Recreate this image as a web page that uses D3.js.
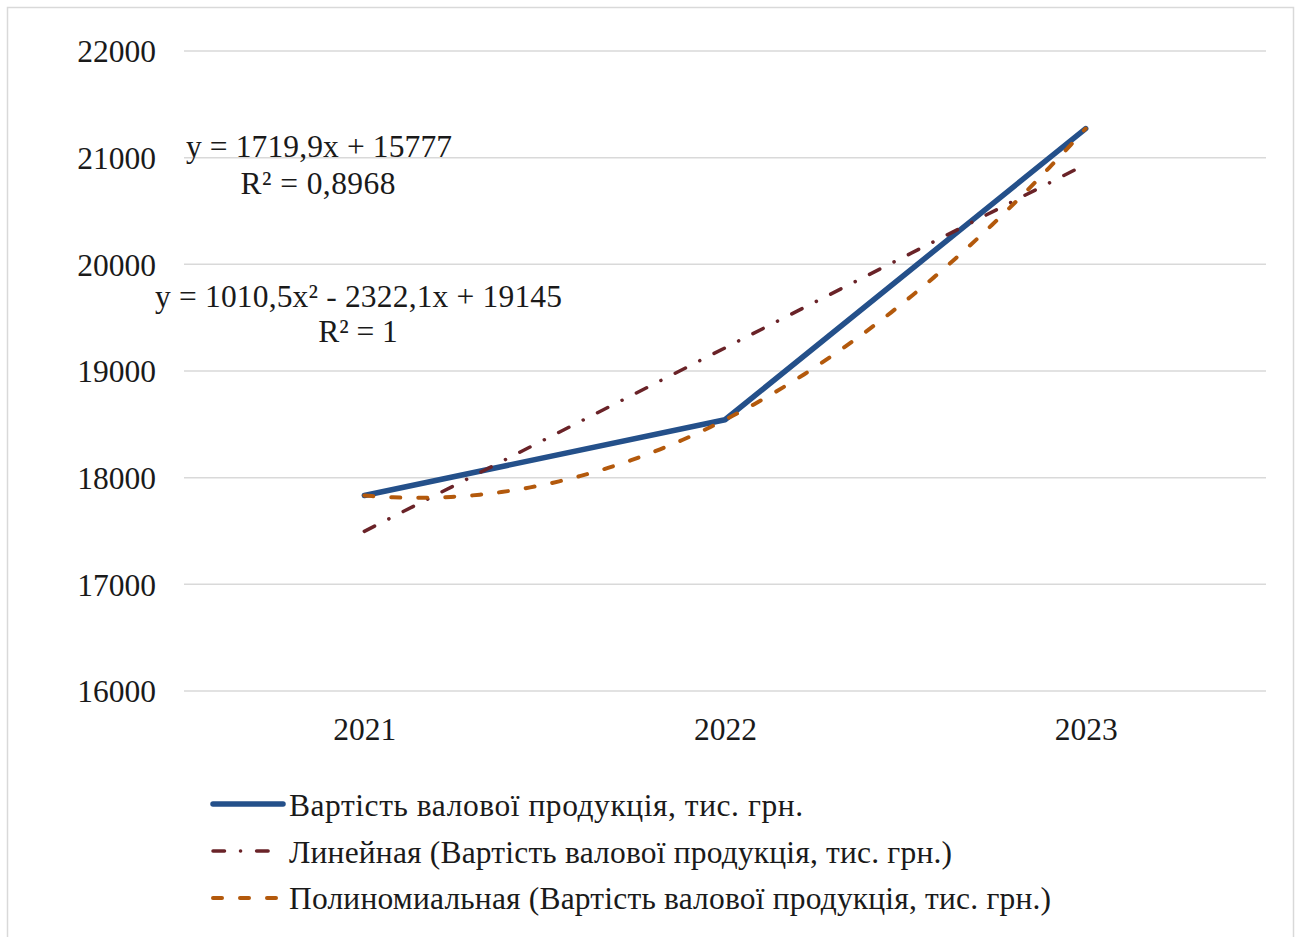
<!DOCTYPE html>
<html>
<head>
<meta charset="utf-8">
<script src="https://cdn.jsdelivr.net/npm/d3@7"></script>
<style>
  html, body { margin: 0; padding: 0; background: #fff; }
  svg { display: block; }
  text { font-family: "Liberation Serif", "Times New Roman", serif; fill: #1a1a1a; }
</style>
</head>
<body>
<svg id="chart" width="1299" height="937"></svg>
<script>
// ---- data ----
const categories = ["2021", "2022", "2023"];
const seriesValues = [17833, 18543, 21273];
const yTicks = [16000, 17000, 18000, 19000, 20000, 21000, 22000];
const linearCoef = [15777, 1719.9];          // y = b0 + b1*x
const polyCoef = [19145, -2322.1, 1010.5];    // y = c0 + c1*x + c2*x^2
const linearLabel = ["y = 1719,9x + 15777", "R² = 0,8968"];
const polyLabel = ["y = 1010,5x² - 2322,1x + 19145", "R² = 1"];
const legendLabels = [
  "Вартість валової продукція, тис. грн.",
  "Линейная (Вартість валової продукція, тис. грн.)",
  "Полиномиальная (Вартість валової продукція, тис. грн.)"
];

// ---- styles ----
const colMain = "#24508a";
const colLin = "#6a2328";
const colPoly = "#b3590c";
const dashLin = "11.5,16,0.1,16";
const dashPoly = "9,18";
const fs = 31.5;

const svg = d3.select("#chart");

// outer border
svg.append("rect")
  .attr("x", 7.5).attr("y", 7.5)
  .attr("width", 1286).attr("height", 945)
  .attr("fill", "#fff").attr("stroke", "#d9d9d9").attr("stroke-width", 1.5);

const plot = { left: 184, right: 1266, top: 51, bottom: 691 };

const x = d3.scalePoint().domain(categories).range([plot.left, plot.right]).padding(0.5);
const y = d3.scaleLinear().domain([16000, 22000]).range([plot.bottom, plot.top]);
const xi = d3.scaleLinear().domain([1, categories.length])
  .range([x(categories[0]), x(categories[categories.length - 1])]);

// gridlines
svg.append("g").selectAll("line").data(yTicks).join("line")
  .attr("x1", plot.left).attr("x2", plot.right)
  .attr("y1", d => y(d)).attr("y2", d => y(d))
  .attr("stroke", "#d9d9d9").attr("stroke-width", 1.5);

// y tick labels
const yAxis = d3.axisLeft(y).tickValues(yTicks).tickSize(0).tickPadding(0).tickFormat(d3.format("d"));
const gy = svg.append("g").attr("transform", "translate(156,0)").call(yAxis);
gy.attr("font-family", null).attr("font-size", null);
gy.select(".domain").remove();
gy.selectAll("text").attr("font-size", fs).attr("fill", "#1a1a1a").attr("dy", "0.34em");

// x tick labels
const xAxis = d3.axisBottom(x).tickSize(0).tickPadding(0);
const gx = svg.append("g").attr("transform", `translate(0,${plot.bottom})`).call(xAxis);
gx.attr("font-family", null).attr("font-size", null);
gx.select(".domain").remove();
gx.selectAll("text").attr("font-size", fs).attr("fill", "#1a1a1a")
  .attr("dy", 0).attr("y", 49);

// main series
const line = d3.line().x((d, i) => x(categories[i])).y(d => y(d));
svg.append("path").datum(seriesValues)
  .attr("d", line).attr("fill", "none").attr("stroke", colMain)
  .attr("stroke-width", 5.5).attr("stroke-linejoin", "round").attr("stroke-linecap", "round");

// linear trend line
const linY = t => linearCoef[0] + linearCoef[1] * t;
const linPts = [1, categories.length].map(t => [xi(t), y(linY(t))]);
svg.append("path").attr("d", d3.line()(linPts))
  .attr("fill", "none").attr("stroke", colLin).attr("stroke-width", 3.5)
  .attr("stroke-dasharray", dashLin).attr("stroke-linecap", "round");

// polynomial trend line
const polyY = t => polyCoef[0] + polyCoef[1] * t + polyCoef[2] * t * t;
const polyPts = d3.range(1, categories.length + 0.0001, 0.02).map(t => [xi(t), y(polyY(t))]);
svg.append("path").attr("d", d3.line()(polyPts))
  .attr("fill", "none").attr("stroke", colPoly).attr("stroke-width", 4)
  .attr("stroke-dasharray", dashPoly).attr("stroke-linecap", "round");

// equation labels
const eq = svg.append("g").attr("font-size", fs).attr("text-anchor", "middle");
eq.append("text").attr("x", 319).attr("y", 157).attr("textLength", 266).attr("lengthAdjust", "spacing").text(linearLabel[0]);
eq.append("text").attr("x", 318).attr("y", 194).attr("textLength", 155).attr("lengthAdjust", "spacing").text(linearLabel[1]);
eq.append("text").attr("x", 358.5).attr("y", 307).attr("textLength", 407).attr("lengthAdjust", "spacing").text(polyLabel[0]);
eq.append("text").attr("x", 358).attr("y", 342).text(polyLabel[1]);

// legend
const legendRows = [
  { color: colMain, width: 5.5, dash: null, lineY: 804, textY: 816, len: 514 },
  { color: colLin, width: 3.5, dash: dashLin, lineY: 851, textY: 863, len: 663 },
  { color: colPoly, width: 4, dash: dashPoly, lineY: 898, textY: 909, len: 762 }
];
const lg = svg.append("g");
legendRows.forEach((r, i) => {
  lg.append("line").attr("x1", 213).attr("x2", 283).attr("y1", r.lineY).attr("y2", r.lineY)
    .attr("stroke", r.color).attr("stroke-width", r.width).attr("stroke-linecap", "round")
    .attr("stroke-dasharray", r.dash);
  lg.append("text").attr("x", 289).attr("y", r.textY).attr("font-size", fs)
    .attr("textLength", r.len).attr("lengthAdjust", "spacing").text(legendLabels[i]);
});
</script>
</body>
</html>
